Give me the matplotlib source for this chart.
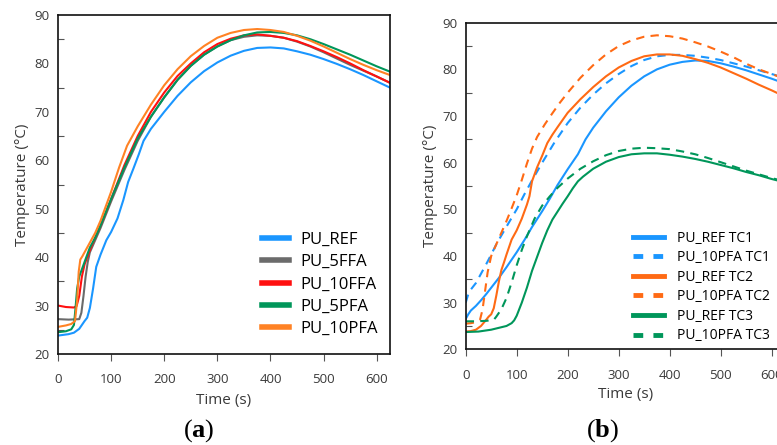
import matplotlib
matplotlib.use("Agg")
import matplotlib.pyplot as plt

plt.rcParams['font.family'] = ['Open Sans', 'DejaVu Sans']
plt.rcParams['mathtext.fontset'] = 'custom'
plt.rcParams['mathtext.rm'] = 'Liberation Serif'
plt.rcParams['mathtext.bf'] = 'Liberation Serif:bold'

# ---------------- Panel (a) data ----------------
t_ref = [0, 20, 30, 40, 50, 55, 60, 66, 72, 80, 91, 100, 112, 123, 132, 142, 152, 161, 175, 200, 225, 250, 275, 300, 325, 350, 375, 400, 425, 450, 475, 500, 525, 550, 575, 600, 625]
y_ref = [23.8, 24.1, 24.4, 25.2, 26.8, 27.5, 29.5, 33.5, 38, 40.5, 43.5, 45.2, 48, 51.8, 55.5, 58.3, 61.2, 64, 66.5, 70, 73.3, 76.1, 78.4, 80.2, 81.6, 82.6, 83.2, 83.3, 83.1, 82.5, 81.8, 80.9, 79.9, 78.8, 77.6, 76.3, 75.0]

t_5ffa = [0, 20, 40, 44, 48, 52, 56, 60, 70, 80, 100, 125, 150, 175, 200, 225, 250, 275, 300, 325, 350, 375, 400, 425, 450, 475, 500, 525, 550, 575, 600, 625]
y_5ffa = [27.2, 27.1, 27.2, 28.5, 32, 36, 39, 41, 43.5, 46, 51.5, 58, 64, 69, 73, 76.6, 79.5, 81.8, 83.5, 84.8, 85.5, 85.8, 85.7, 85.3, 84.5, 83.5, 82.3, 81.0, 79.7, 78.5, 77.3, 76.0]

t_10ffa = [0, 15, 30, 35, 40, 45, 50, 55, 62, 70, 80, 100, 125, 150, 175, 200, 225, 250, 275, 300, 325, 350, 375, 400, 425, 450, 475, 500, 525, 550, 575, 600, 625]
y_10ffa = [30.0, 29.7, 29.6, 29.9, 32, 36, 38.5, 40, 42, 44, 46.5, 52, 59, 65, 70, 74, 77.4, 80, 82.3, 84, 85.1, 85.8, 86.0, 85.7, 85.3, 84.6, 83.6, 82.5, 81.3, 80.0, 78.6, 77.3, 76.0]

t_5pfa = [0, 15, 25, 30, 33, 36, 40, 45, 50, 55, 60, 70, 80, 100, 125, 150, 175, 200, 225, 250, 275, 300, 325, 350, 375, 400, 425, 450, 475, 500, 525, 550, 575, 600, 625]
y_5pfa = [24.5, 24.7, 25.1, 26, 29.5, 33.5, 36, 37.5, 39, 40.5, 42, 44, 46.5, 52, 58.5, 64.5, 69, 73, 76.6, 79.5, 81.8, 83.5, 84.8, 85.8, 86.4, 86.5, 86.3, 85.8, 85.0, 84.0, 82.9, 81.8, 80.6, 79.4, 78.3]

t_10pfa = [0, 15, 25, 32, 36, 39, 42, 46, 50, 60, 70, 80, 100, 115, 130, 150, 175, 200, 225, 250, 275, 300, 325, 350, 375, 400, 425, 450, 475, 500, 525, 550, 575, 600, 625]
y_10pfa = [25.6, 25.9, 26.2, 26.8, 31, 37, 39.5, 40.2, 41, 43, 45, 47.5, 53.5, 58.5, 63, 67, 71.5, 75.5, 78.8, 81.5, 83.6, 85.3, 86.3, 86.9, 87.1, 86.9, 86.5, 85.7, 84.7, 83.5, 82.2, 80.9, 79.7, 78.6, 77.6]

# ---------------- Panel (b) data ----------------
t_tc1_ref = [0, 5, 10, 20, 30, 40, 50, 65, 80, 100, 115, 130, 150, 165, 180, 200, 220, 235, 250, 275, 300, 325, 350, 375, 400, 425, 450, 475, 500, 525, 550, 575, 600, 625]
y_tc1_ref = [26.5, 27.5, 28.3, 29.3, 30.5, 31.8, 33.2, 35.3, 37.6, 40.8, 43.4, 46.2, 49.6, 52.3, 55.2, 58.6, 61.8, 65, 67.5, 71, 74, 76.5, 78.5, 80, 81, 81.6, 81.9, 81.8, 81.3, 80.6, 79.8, 78.9, 78.0, 77.0]

t_tc1_pfa = [0, 5, 10, 20, 30, 40, 50, 60, 80, 100, 115, 130, 150, 175, 200, 225, 250, 275, 300, 325, 350, 375, 400, 425, 450, 475, 500, 525, 550, 575, 600, 625]
y_tc1_pfa = [30.0, 31.8, 32.8, 34.2, 36.2, 38.2, 40.3, 42.5, 46.3, 50.0, 53.2, 56.2, 60.0, 64.5, 68.5, 71.8, 74.6, 77, 79, 80.7, 82, 82.8, 83.1, 83.1, 82.9, 82.5, 82.0, 81.3, 80.6, 79.8, 79.0, 78.2]

t_tc2_ref = [0, 10, 20, 30, 40, 45, 50, 55, 60, 65, 70, 75, 80, 90, 100, 110, 120, 125, 130, 140, 150, 160, 170, 180, 200, 225, 250, 275, 300, 325, 350, 375, 400, 425, 450, 475, 500, 525, 550, 575, 600, 625]
y_tc2_ref = [23.8, 23.9, 24.2, 25.0, 26.3, 27.0, 27.5, 28.8, 31.5, 34.5, 37.0, 38.6, 40.3, 43.5, 45.5, 48.0, 51.0, 52.8, 56.0, 59.0, 61.5, 64.2, 66.0, 67.6, 70.7, 73.6, 76.2, 78.5, 80.4, 81.8, 82.8, 83.2, 83.2, 82.9, 82.2, 81.4, 80.4, 79.2, 78.0, 76.7, 75.5, 74.2]

t_tc2_pfa = [0, 10, 20, 28, 33, 38, 43, 50, 60, 70, 80, 90, 100, 110, 120, 130, 140, 155, 170, 185, 200, 225, 250, 275, 300, 325, 350, 375, 400, 425, 450, 475, 500, 525, 550, 575, 600, 625]
y_tc2_pfa = [25.5, 25.6, 25.8, 26.3, 28.5, 32.5, 36.5, 40.0, 42.5, 45.0, 47.5, 50.2, 53.0, 56.3, 59.8, 63.0, 65.5, 68.2, 70.6, 72.9, 75.0, 78.2, 80.9, 83.2, 85.0, 86.2, 87.0, 87.3, 87.1, 86.6, 85.8, 84.9, 83.8, 82.6, 81.2, 80.0, 79.0, 78.0]

t_tc3_ref = [0, 25, 50, 65, 80, 90, 95, 100, 110, 120, 130, 140, 150, 160, 170, 180, 190, 200, 210, 220, 230, 250, 275, 300, 325, 350, 375, 400, 425, 450, 475, 500, 525, 550, 575, 600, 625]
y_tc3_ref = [23.7, 23.8, 24.2, 24.6, 25.0, 25.6, 26.2, 27.2, 30.0, 33.2, 36.8, 39.8, 42.8, 45.5, 47.8, 49.5, 51.2, 52.8, 54.5, 56.0, 57.0, 58.7, 60.2, 61.2, 61.8, 62.0, 62.0, 61.7, 61.3, 60.8, 60.2, 59.5, 58.8, 58.0, 57.3, 56.5, 55.8]

t_tc3_pfa = [0, 20, 40, 55, 60, 70, 80, 90, 100, 110, 120, 135, 150, 165, 180, 200, 225, 250, 275, 300, 325, 350, 375, 400, 425, 450, 475, 500, 525, 550, 575, 600, 625]
y_tc3_pfa = [26.0, 26.0, 26.1, 26.3, 27.0, 28.6, 31.0, 34.3, 38.0, 41.3, 44.2, 48.0, 50.8, 52.8, 54.6, 56.6, 58.7, 60.3, 61.6, 62.5, 63.0, 63.2, 63.1, 62.9, 62.4, 61.8, 61.0, 60.1, 59.2, 58.3, 57.5, 56.7, 56.0]

labels_a = ['PU_REF', 'PU_5FFA', 'PU_10FFA', 'PU_5PFA', 'PU_10PFA']
colors_a = ['#1A96FF', '#6B6B6B', '#FF1010', '#00965A', '#FF8224']
labels_b = ['PU_REF TC1', 'PU_10PFA TC1', 'PU_REF TC2', 'PU_10PFA TC2', 'PU_REF TC3', 'PU_10PFA TC3']
colors_b = ['#1A96FF', '#1A96FF', '#FF6A14', '#FF6A14', '#00965A', '#00965A']

fig = plt.figure(figsize=(7.77, 4.45), dpi=100)
W, H = 777.0, 445.0
ax1 = fig.add_axes([58 / W, 1 - 354 / H, 332 / W, 339 / H])
ax2 = fig.add_axes([465.7 / W, 1 - 349.3 / H, 318.75 / W, 326.6 / H])

tick_col = '#3a3a3a'

series_a = [(t_ref, y_ref), (t_5ffa, y_5ffa), (t_10ffa, y_10ffa), (t_5pfa, y_5pfa), (t_10pfa, y_10pfa)]
for (t, y), c, l in zip(series_a, colors_a, labels_a):
    ax1.plot(t, y, color=c, lw=1.5, label=l)

series_b = [(t_tc1_ref, y_tc1_ref), (t_tc1_pfa, y_tc1_pfa), (t_tc2_ref, y_tc2_ref),
            (t_tc2_pfa, y_tc2_pfa), (t_tc3_ref, y_tc3_ref), (t_tc3_pfa, y_tc3_pfa)]
for i, ((t, y), c, l) in enumerate(zip(series_b, colors_b, labels_b)):
    ls = (0, (4, 3)) if i % 2 == 1 else '-'
    ax2.plot(t, y, color=c, lw=1.5, ls=ls, label=l)

for ax in (ax1, ax2):
    ax.set_xlim(0, 625)
    ax.set_ylim(20, 90)
    ax.set_xticks(range(0, 700, 100))
    ax.set_yticks(range(20, 100, 10))
    ax.set_yticks(range(25, 90, 10), minor=True)
    ax.tick_params(axis='x', which='major', direction='out', length=5, width=0.8,
                   labelsize=9.5, colors='#555555', labelcolor=tick_col, pad=9)
    ax.tick_params(axis='y', which='major', length=0, labelsize=9.5,
                   labelcolor=tick_col, pad=6)
    ax.tick_params(axis='y', which='minor', direction='in', length=4, width=0.8, colors='#555555')
    for s in ax.spines.values():
        s.set_linewidth(1.2)
        s.set_color('#111111')
    ax.set_ylabel('Temperature (°C)', fontsize=11, color=tick_col, labelpad=3)

ax1.set_xlabel('Time (s)', fontsize=11, color=tick_col, labelpad=5)
ax2.set_xlabel('Time (s)', fontsize=11, color=tick_col, labelpad=4)

leg1 = ax1.legend(loc='lower right', frameon=False, fontsize=12, handlelength=1.6,
                  handletextpad=0.72, labelspacing=0.38, borderaxespad=0.3,
                  bbox_to_anchor=(1.0, 0.015))
for h in leg1.get_lines():
    h.set_linewidth(4)

leg2 = ax2.legend(loc='lower right', frameon=False, fontsize=10, handlelength=2.23,
                  handletextpad=0.93, labelspacing=0.33, borderaxespad=0.3,
                  bbox_to_anchor=(0.985, -0.012))
for i, h in enumerate(leg2.get_lines()):
    h.set_linewidth(3.5)
    if i % 2 == 1:
        h.set_linestyle((0, (2.0, 2.1)))

fig.text(199 / W, 1 - 431 / H, r'$(\mathbf{a})$', ha='center', va='center', fontsize=19)
fig.text(603 / W, 1 - 431 / H, r'$(\mathbf{b})$', ha='center', va='center', fontsize=19)

fig.savefig('out.png', dpi=100)
